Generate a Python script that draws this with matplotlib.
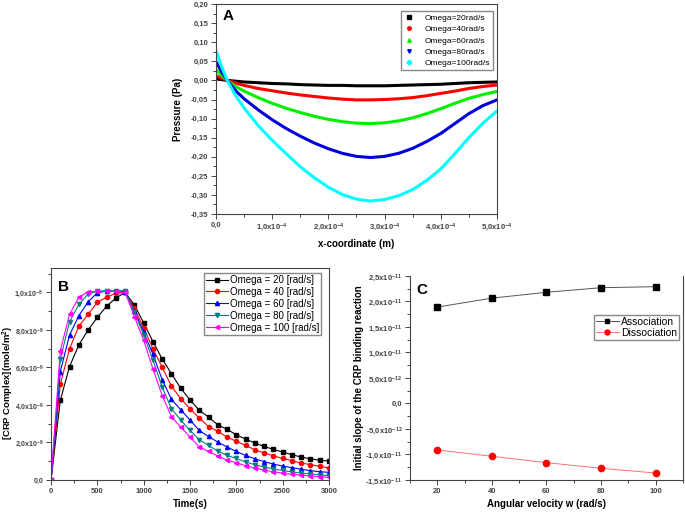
import matplotlib
matplotlib.use("Agg")
import matplotlib.pyplot as plt
from matplotlib.lines import Line2D
from matplotlib.ticker import AutoMinorLocator
import numpy as np

plt.rcParams['font.family'] = ['Liberation Sans', 'DejaVu Sans']
plt.rcParams['mathtext.default'] = 'regular'

# ---- panel A : pressure along x ----
x_a = [0, 0.1, 0.2, 0.35, 0.5, 0.75, 1.0, 1.25, 1.5, 1.75, 2.0, 2.25, 2.5,
       2.75, 3.0, 3.25, 3.5, 3.75, 4.0, 4.25, 4.5, 4.75, 5.0]  # x 1e-4 m
p20 = [0.004, 0.002, 0.0, -0.002, -0.004, -0.006, -0.008, -0.009, -0.011, -0.012,
       -0.013, -0.013, -0.014, -0.014, -0.014, -0.013, -0.012, -0.011, -0.010,
       -0.008, -0.006, -0.005, -0.004]
p40 = [0.012, 0.006, 0.0, -0.007, -0.013, -0.021, -0.027, -0.033, -0.038, -0.042,
       -0.046, -0.049, -0.051, -0.051, -0.050, -0.048, -0.045, -0.040, -0.034,
       -0.028, -0.021, -0.016, -0.012]
p60 = [0.028, 0.013, 0.0, -0.016, -0.028, -0.045, -0.060, -0.073, -0.084, -0.094,
       -0.102, -0.108, -0.112, -0.113, -0.111, -0.106, -0.098, -0.087, -0.074,
       -0.060, -0.047, -0.037, -0.029]
p80 = [0.049, 0.023, 0.0, -0.027, -0.048, -0.077, -0.103, -0.126, -0.146, -0.164,
       -0.179, -0.191, -0.199, -0.202, -0.199, -0.191, -0.178, -0.160, -0.139,
       -0.113, -0.087, -0.066, -0.051]
p100 = [0.078, 0.036, 0.0, -0.040, -0.072, -0.118, -0.157, -0.192, -0.226, -0.255,
        -0.280, -0.299, -0.311, -0.316, -0.312, -0.302, -0.286, -0.262, -0.232,
        -0.192, -0.150, -0.112, -0.080]
labels_a = ["Omega=20rad/s", "Omega=40rad/s", "Omega=60rad/s",
            "Omega=80rad/s", "Omega=100rad/s"]

# ---- panel B : CRP complex vs time ----
t_b = list(range(0, 3001, 100))
c20 = [0, 0.424, 0.605, 0.72, 0.80, 0.867, 0.927, 0.97, 1.0, 0.933, 0.837, 0.738,
       0.645, 0.566, 0.489, 0.427, 0.372, 0.335, 0.294, 0.27, 0.241, 0.218, 0.197,
       0.179, 0.163, 0.149, 0.135, 0.122, 0.113, 0.105, 0.101]
c40 = [0, 0.51, 0.70, 0.82, 0.883, 0.947, 0.975, 0.995, 1.0, 0.915, 0.81, 0.70,
       0.60, 0.50, 0.433, 0.38, 0.33, 0.285, 0.259, 0.229, 0.206, 0.184, 0.161,
       0.144, 0.129, 0.115, 0.103, 0.09, 0.082, 0.073, 0.064]
c60 = [0, 0.578, 0.773, 0.876, 0.95, 0.998, 1.007, 1.007, 1.003, 0.90, 0.79, 0.67,
       0.534, 0.43, 0.374, 0.32, 0.264, 0.232, 0.202, 0.176, 0.152, 0.131, 0.113,
       0.098, 0.085, 0.074, 0.066, 0.057, 0.05, 0.044, 0.041]
c80 = [0, 0.645, 0.844, 0.936, 0.991, 1.007, 1.009, 1.009, 1.009, 0.894, 0.773,
       0.638, 0.495, 0.379, 0.32, 0.264, 0.215, 0.184, 0.154, 0.131, 0.115, 0.096,
       0.082, 0.069, 0.059, 0.051, 0.043, 0.037, 0.032, 0.028, 0.023]
c100 = [0, 0.69, 0.883, 0.973, 1.004, 1.005, 1.005, 1.005, 1.0, 0.87, 0.745, 0.592,
        0.45, 0.337, 0.282, 0.229, 0.177, 0.152, 0.128, 0.106, 0.092, 0.076, 0.064,
        0.053, 0.044, 0.037, 0.030, 0.027, 0.021, 0.018, 0.014]  # x 1e-8
labels_b = ["Omega = 20 [rad/s]", "Omega = 40 [rad/s]", "Omega = 60 [rad/s]",
            "Omega = 80 [rad/s]", "Omega = 100 [rad/s]"]

# ---- panel C : initial slope ----
w_c = [20, 40, 60, 80, 100]
assoc = [1.89, 2.065, 2.18, 2.27, 2.29]  # x 1e-11
dissoc = [-0.91, -1.035, -1.16, -1.27, -1.363]

fig = plt.figure(figsize=(6.85, 5.12), dpi=100)
tk = dict(fontsize=5.5, fontweight='bold')
lab = dict(fontsize=7, fontweight='bold')


def style(ax):
    for s in ax.spines.values():
        s.set_color('#444444')
        s.set_linewidth(0.8)
    ax.tick_params(which='both', direction='out', colors='#444444', width=0.7, pad=2)
    ax.tick_params(which='major', length=3.5)
    ax.tick_params(which='minor', length=2)


# A
axA = fig.add_axes([0.3153, 0.582, 0.4102, 0.410])
cols_a = ['black', '#ff0000', '#00ee00', '#0000dd', '#00ffff']
marks_a = ['s', 'o', '^', 'v', 'D']
for ys, c in zip([p20, p40, p60, p80, p100], cols_a):
    axA.plot(np.array(x_a) * 1e-4, ys, color=c, lw=2.2, solid_capstyle='round')
axA.set_xlim(0, 5e-4)
axA.set_ylim(-0.35, 0.20)
axA.set_xticks(np.arange(0, 5.01e-4, 1e-4))
axA.set_xticklabels(["0,0"] + [r"%d,0x10$^{-4}$" % i for i in range(1, 6)], **tk)
yt = np.arange(-0.35, 0.2001, 0.05)
axA.set_yticks(yt)
axA.set_yticklabels([("%.2f" % v).replace('.', ',').replace('-0,00', '0,00') for v in yt], **tk)
axA.xaxis.set_minor_locator(AutoMinorLocator(2))
axA.yaxis.set_minor_locator(AutoMinorLocator(2))
axA.set_xlabel("x-coordinate (m)", labelpad=4, **lab)
axA.set_ylabel("Pressure (Pa)", labelpad=6, **lab)
axA.text(0.025, 0.975, "A", transform=axA.transAxes, va='top', fontsize=11, fontweight='bold')
style(axA)
hA = [Line2D([], [], ls='none', marker=m, color=c, markersize=2.5) for m, c in zip(marks_a, cols_a)]
axA.legend(hA, labels_a, loc='upper right', bbox_to_anchor=(0.7197, 0.9785),
           bbox_transform=fig.transFigure, fontsize=6, fancybox=False,
           edgecolor='#888888', framealpha=1, borderaxespad=0, handletextpad=1.2,
           labelspacing=0.4, handlelength=1.2)

# B
axB = fig.add_axes([0.0745, 0.0625, 0.4058, 0.414])
cols_b = ['black', '#ff0000', '#0000ff', '#008080', '#ff00ff']
marks_b = ['s', 'o', '^', 'v', '<']
for ys, c, m, l in zip([c20, c40, c60, c80, c100], cols_b, marks_b, labels_b):
    axB.plot(t_b, np.array(ys) * 1e-8, color=c, marker=m, markersize=3, lw=0.8, label=l)
axB.set_xlim(0, 3000)
axB.set_ylim(0, 1.13e-8)
axB.set_xticks(range(0, 3001, 500))
axB.set_xticklabels([str(v) for v in range(0, 3001, 500)], **tk)
axB.set_yticks([0, 2e-9, 4e-9, 6e-9, 8e-9, 1e-8])
axB.set_yticklabels(["0,0", r"2,0x10$^{-9}$", r"4,0x10$^{-9}$", r"6,0x10$^{-9}$",
                     r"8,0x10$^{-9}$", r"1,0x10$^{-8}$"], fontsize=5, fontweight='bold')
axB.xaxis.set_minor_locator(AutoMinorLocator(2))
axB.yaxis.set_minor_locator(AutoMinorLocator(2))
axB.set_xlabel("Time(s)", labelpad=3, **lab)
axB.set_ylabel(r"[CRP Complex](mole/m$^2$)", fontsize=6.8, fontweight='bold')
axB.yaxis.set_label_coords(-0.125, 0.46)
axB.text(0.025, 0.945, "B", transform=axB.transAxes, va='top', fontsize=11, fontweight='bold')
style(axB)
axB.legend(loc='upper right', bbox_to_anchor=(0.4686, 0.4668),
           bbox_transform=fig.transFigure, fontsize=7, fancybox=False,
           edgecolor='#888888', framealpha=1, borderaxespad=0, handletextpad=0.2,
           labelspacing=0.2, handlelength=2.2, borderpad=0.2)

# C
axC = fig.add_axes([0.5985, 0.0625, 0.3985, 0.3985])
axC.plot(w_c, np.array(assoc) * 1e-11, color='#555555', lw=0.7, marker='s',
         markersize=4, markerfacecolor='black', markeredgecolor='black', label="Association")
axC.plot(w_c, np.array(dissoc) * 1e-11, color='#ff7070', lw=0.7, marker='o',
         markersize=4.5, markerfacecolor='#ff0000', markeredgecolor='#ff0000', label="Dissociation")
axC.set_xlim(10, 110)
axC.set_ylim(-1.5e-11, 2.5e-11)
axC.set_xticks(w_c)
axC.set_xticklabels([str(v) for v in w_c], **tk)
yc = [-1.5e-11, -1.0e-11, -5e-12, 0, 5e-12, 1.0e-11, 1.5e-11, 2.0e-11, 2.5e-11]
axC.set_yticks(yc)
axC.set_yticklabels([r"-1,5x10$^{-11}$", r"-1,0x10$^{-11}$", r"-5,0x10$^{-12}$", "0,0",
                     r"5,0x10$^{-12}$", r"1,0x10$^{-11}$", r"1,5x10$^{-11}$",
                     r"2,0x10$^{-11}$", r"2,5x10$^{-11}$"], **tk)
axC.xaxis.set_minor_locator(AutoMinorLocator(2))
axC.yaxis.set_minor_locator(AutoMinorLocator(2))
axC.set_xlabel("Angular velocity w (rad/s)", labelpad=3, **lab)
axC.set_ylabel("Initial slope of the CRP binding reaction", labelpad=1, **lab)
axC.text(0.025, 0.965, "C", transform=axC.transAxes, va='top', fontsize=11, fontweight='bold')
style(axC)
axC.spines['top'].set_visible(False)
axC.legend(loc='upper right', bbox_to_anchor=(0.991, 0.385),
           bbox_transform=fig.transFigure, fontsize=7.5, fancybox=False,
           edgecolor='#888888', framealpha=1, borderaxespad=0, handletextpad=0.2,
           labelspacing=0.1, handlelength=2.2, borderpad=0.2, markerscale=0.8)

fig.savefig("out.png", dpi=100)
plt.close(fig)
